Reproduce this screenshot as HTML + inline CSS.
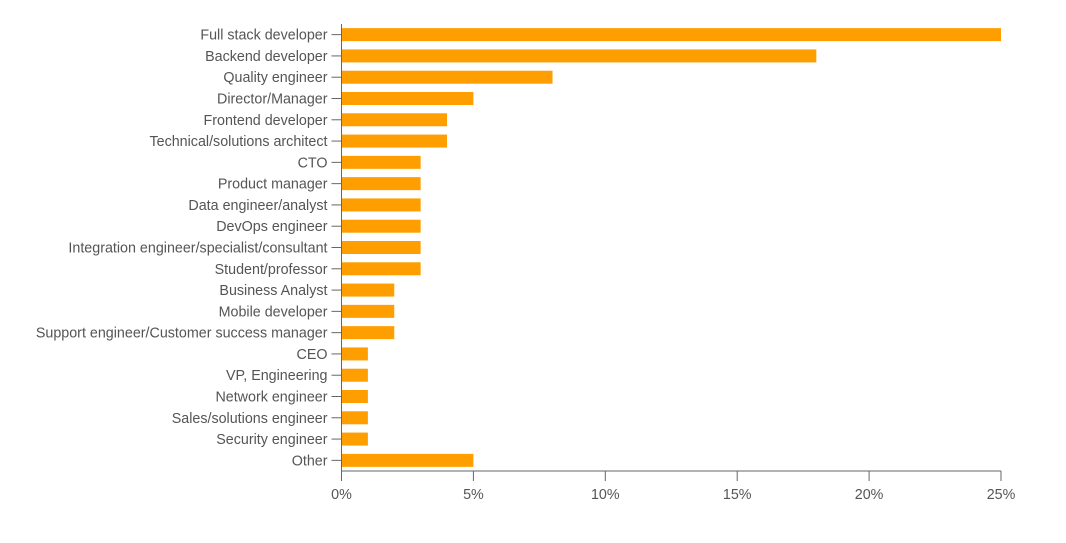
<!DOCTYPE html>
<html><head><meta charset="utf-8"><style>
body{margin:0;background:#fff;width:1066px;height:538px;overflow:hidden}
svg text{font-family:"Liberation Sans",sans-serif;font-size:14.3px;fill:#555}
</style></head><body>
<svg id="chart" width="1066" height="538"></svg>
<script>
const categories=["Full stack developer","Backend developer","Quality engineer","Director/Manager","Frontend developer","Technical/solutions architect","CTO","Product manager","Data engineer/analyst","DevOps engineer","Integration engineer/specialist/consultant","Student/professor","Business Analyst","Mobile developer","Support engineer/Customer success manager","CEO","VP, Engineering","Network engineer","Sales/solutions engineer","Security engineer","Other"];
const values=[25,18,8,5,4,4,3,3,3,3,3,3,2,2,2,1,1,1,1,1,5];
const ticks=[0,5,10,15,20,25];
const tickLabels=["0%","5%","10%","15%","20%","25%"];
const svgEl=document.getElementById('chart');
const NS='http://www.w3.org/2000/svg';
const x0=341.5,x1=1001,plotTop=24,plotBottom=471,maxV=25;
const band=(plotBottom-plotTop)/categories.length,barH=13;
const xs=v=>x0+(x1-x0)*v/maxV;
const yc=i=>plotTop+band*(i+0.5);
function mk(t,a){const e=document.createElementNS(NS,t);for(const k in a)e.setAttribute(k,a[k]);svgEl.appendChild(e);return e;}
categories.forEach((c,i)=>{
 const r=mk('rect',{x:x0,y:yc(i)-barH/2,width:xs(values[i])-x0,height:barH,fill:'#ff9e00'});
 
 
 const tk=mk('line',{x1:x0-10,x2:x0,y1:yc(i),y2:yc(i),stroke:'#666','stroke-width':1});
 
 
 const t=mk('text',{x:x0-14,y:yc(i)+5,'text-anchor':'end'});
 t.textContent=c;
 
 
});
ticks.forEach((v,i)=>{
 const l=mk('line',{x1:xs(v),x2:xs(v),y1:plotBottom,y2:plotBottom+10,stroke:'#666','stroke-width':1});
 
 
 const t=mk('text',{x:xs(v),y:499,'text-anchor':'middle'});
 t.textContent=tickLabels[i];
 
 
});
const ya=mk('line',{x1:x0,x2:x0,y1:plotTop,y2:plotBottom,stroke:'#666','stroke-width':1});


const xa=mk('line',{x1:x0,x2:x1,y1:plotBottom,y2:plotBottom,stroke:'#666','stroke-width':1});


</script>
</body></html>
